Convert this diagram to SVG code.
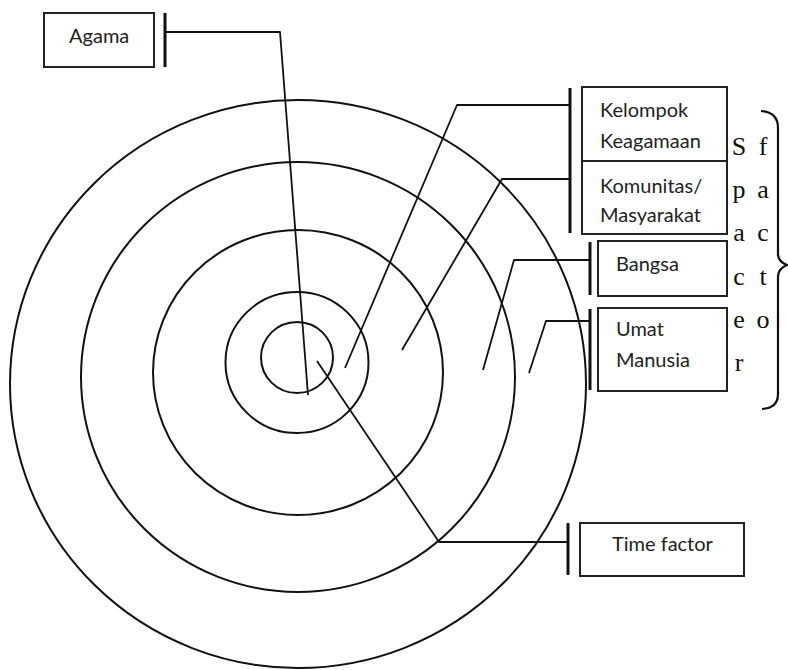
<svg xmlns="http://www.w3.org/2000/svg" width="788" height="670" viewBox="0 0 788 670">
<style>
.ring{fill:none;stroke:#111;stroke-width:2}
.box{fill:#fff;stroke:#222;stroke-width:2}
.bar{stroke:#111;stroke-width:3;fill:none}
.con{fill:none;stroke:#111;stroke-width:1.8;stroke-linejoin:round}
.lbl{font-family:Lato,"Liberation Sans",sans-serif;font-size:20px;fill:#222}
.sf{font-family:"Liberation Serif",serif;font-size:26px;fill:#111;text-anchor:middle}
</style>
<rect width="788" height="670" fill="#fff"/>
<g id="rings">
<ellipse class="ring" cx="298" cy="384" rx="288" ry="284"/>
<ellipse class="ring" cx="298" cy="377" rx="217" ry="215"/>
<ellipse class="ring" cx="298" cy="372.5" rx="145" ry="142.5"/>
<ellipse class="ring" cx="297" cy="362.5" rx="71.5" ry="70.5"/>
<ellipse class="ring" cx="297" cy="357.5" rx="36" ry="35.5"/>
</g>
<g id="connectors">
<polyline class="con" points="165,32 280,32 308,395"/>
<polyline class="con" points="570,105 457,105 345,368"/>
<polyline class="con" points="570,179 502,179 402,350"/>
<polyline class="con" points="590,260 514,260 483,370"/>
<polyline class="con" points="590,321 546,321 529,373"/>
<polyline class="con" points="568,542 439,542 317,361"/>
<line class="bar" x1="165" y1="13" x2="165" y2="67"/>
<line class="bar" x1="570" y1="88" x2="570" y2="233"/>
<line class="bar" x1="590" y1="242" x2="590" y2="295"/>
<line class="bar" x1="590" y1="309" x2="590" y2="390"/>
<line class="bar" x1="568" y1="523" x2="568" y2="575"/>
</g>
<g id="agama">
<rect class="box" x="44" y="13" width="110" height="54"/>
<text class="lbl" x="69" y="43">Agama</text>
</g>
<g id="kelompok">
<rect class="box" x="582" y="87" width="145" height="74"/>
<text class="lbl" x="600" y="117">Kelompok</text>
<text class="lbl" x="600" y="148">Keagamaan</text>
</g>
<g id="komunitas">
<rect class="box" x="582" y="161" width="145" height="73"/>
<text class="lbl" x="600" y="193">Komunitas/</text>
<text class="lbl" x="600" y="222">Masyarakat</text>
</g>
<g id="bangsa">
<rect class="box" x="598" y="241" width="129" height="55"/>
<text class="lbl" x="616" y="271">Bangsa</text>
</g>
<g id="umat">
<rect class="box" x="598" y="308" width="129" height="83"/>
<text class="lbl" x="616" y="336">Umat</text>
<text class="lbl" x="616" y="367">Manusia</text>
</g>
<g id="time">
<rect class="box" x="580" y="523" width="164" height="53"/>
<text class="lbl" x="612" y="551">Time factor</text>
</g>
<g id="space-factor">
<text class="sf" y="155"><tspan x="739">S</tspan><tspan x="763">f</tspan></text>
<text class="sf" y="198"><tspan x="739">p</tspan><tspan x="763">a</tspan></text>
<text class="sf" y="241"><tspan x="739">a</tspan><tspan x="763">c</tspan></text>
<text class="sf" y="285"><tspan x="739">c</tspan><tspan x="763">t</tspan></text>
<text class="sf" y="328"><tspan x="739">e</tspan><tspan x="763">o</tspan></text>
<text class="sf" y="371"><tspan x="739">r</tspan></text>
<path d="M761,111 Q778,112 778,128 L778,255 Q779,262 787,265 Q779,268 778,276 L778,394 Q778,408 762,409" fill="none" stroke="#111" stroke-width="2.2"/>
</g>
</svg>
